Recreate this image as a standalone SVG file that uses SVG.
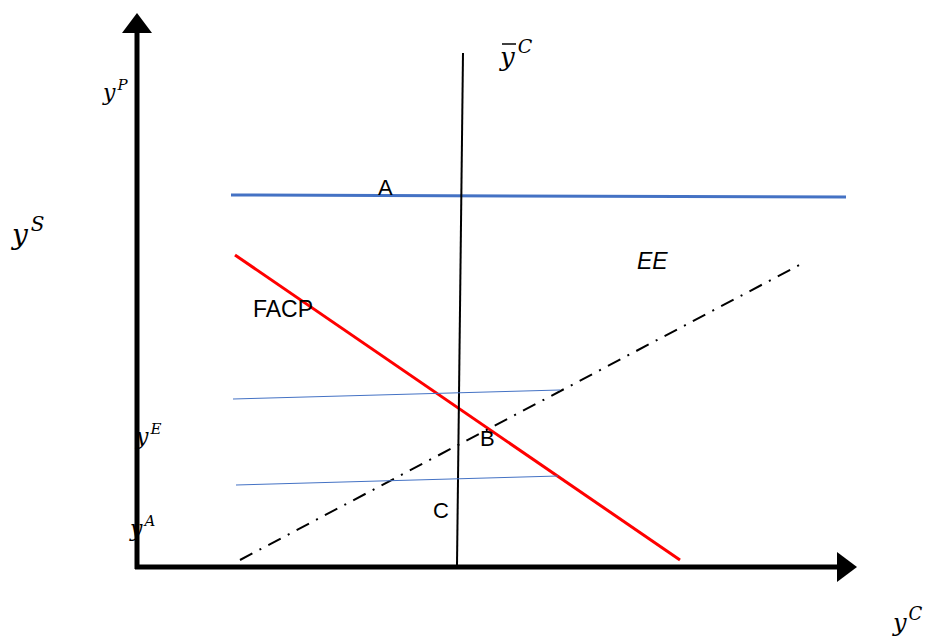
<svg xmlns="http://www.w3.org/2000/svg" width="925" height="637" viewBox="0 0 925 637">
<style>
.math{font-family:"DejaVu Serif","Liberation Serif",serif;font-style:italic;fill:#000}
.lbl{font-family:"Liberation Sans","Noto Sans",sans-serif;fill:#000}
</style>
<defs>
<marker id="ah" markerWidth="6" markerHeight="6" refX="0" refY="3" orient="auto" markerUnits="strokeWidth">
<path d="M0,0 L4,3 L0,6 Z" fill="#000"/>
</marker>
</defs>
<rect width="925" height="637" fill="#fff"/>
<g id="connectors">
<line x1="137" y1="569" x2="137" y2="33" stroke="#000" stroke-width="5" marker-end="url(#ah)"/>
<line x1="135" y1="567" x2="837" y2="567" stroke="#000" stroke-width="5" marker-end="url(#ah)"/>
<line x1="231" y1="195" x2="846" y2="197" stroke="#4472C4" stroke-width="3"/>
<line x1="235" y1="255" x2="680" y2="560" stroke="#FF0000" stroke-width="3"/>
<line x1="463" y1="53" x2="457" y2="565" stroke="#000" stroke-width="2"/>
<line x1="240" y1="560" x2="805" y2="262" stroke="#000" stroke-width="2" stroke-dasharray="14,8,2,8"/>
<line x1="233" y1="399" x2="560" y2="390" stroke="#4472C4" stroke-width="1"/>
<line x1="236" y1="485" x2="558" y2="476" stroke="#4472C4" stroke-width="1"/>
</g>
<g id="labels">
<text class="math" x="103" y="100" font-size="22">y<tspan font-size="15" dx="2" dy="-10">P</tspan></text>
<text class="math" x="500" y="66" font-size="26">y<tspan font-size="19" dx="3" dy="-13">C</tspan></text>
<line x1="502" y1="44" x2="516" y2="44" stroke="#000" stroke-width="1.5"/>
<text class="math" x="12" y="244" font-size="28">y<tspan font-size="20" dx="3" dy="-13">S</tspan></text>
<text class="math" x="136" y="444" font-size="22">y<tspan font-size="15" dx="2" dy="-10">E</tspan></text>
<text class="math" x="130" y="536" font-size="22">y<tspan font-size="15" dx="2" dy="-10">A</tspan></text>
<text class="math" x="893" y="631" font-size="24">y<tspan font-size="18" dx="2" dy="-11">C</tspan></text>
<text class="lbl" x="378" y="195" font-size="22">A</text>
<text class="lbl" x="480" y="446" font-size="22">B</text>
<text class="lbl" x="433" y="518" font-size="22">C</text>
<text class="lbl" x="253" y="317" font-size="23">FACP</text>
<text class="lbl" x="637" y="269" font-size="23" font-style="italic">EE</text>
</g>
</svg>
